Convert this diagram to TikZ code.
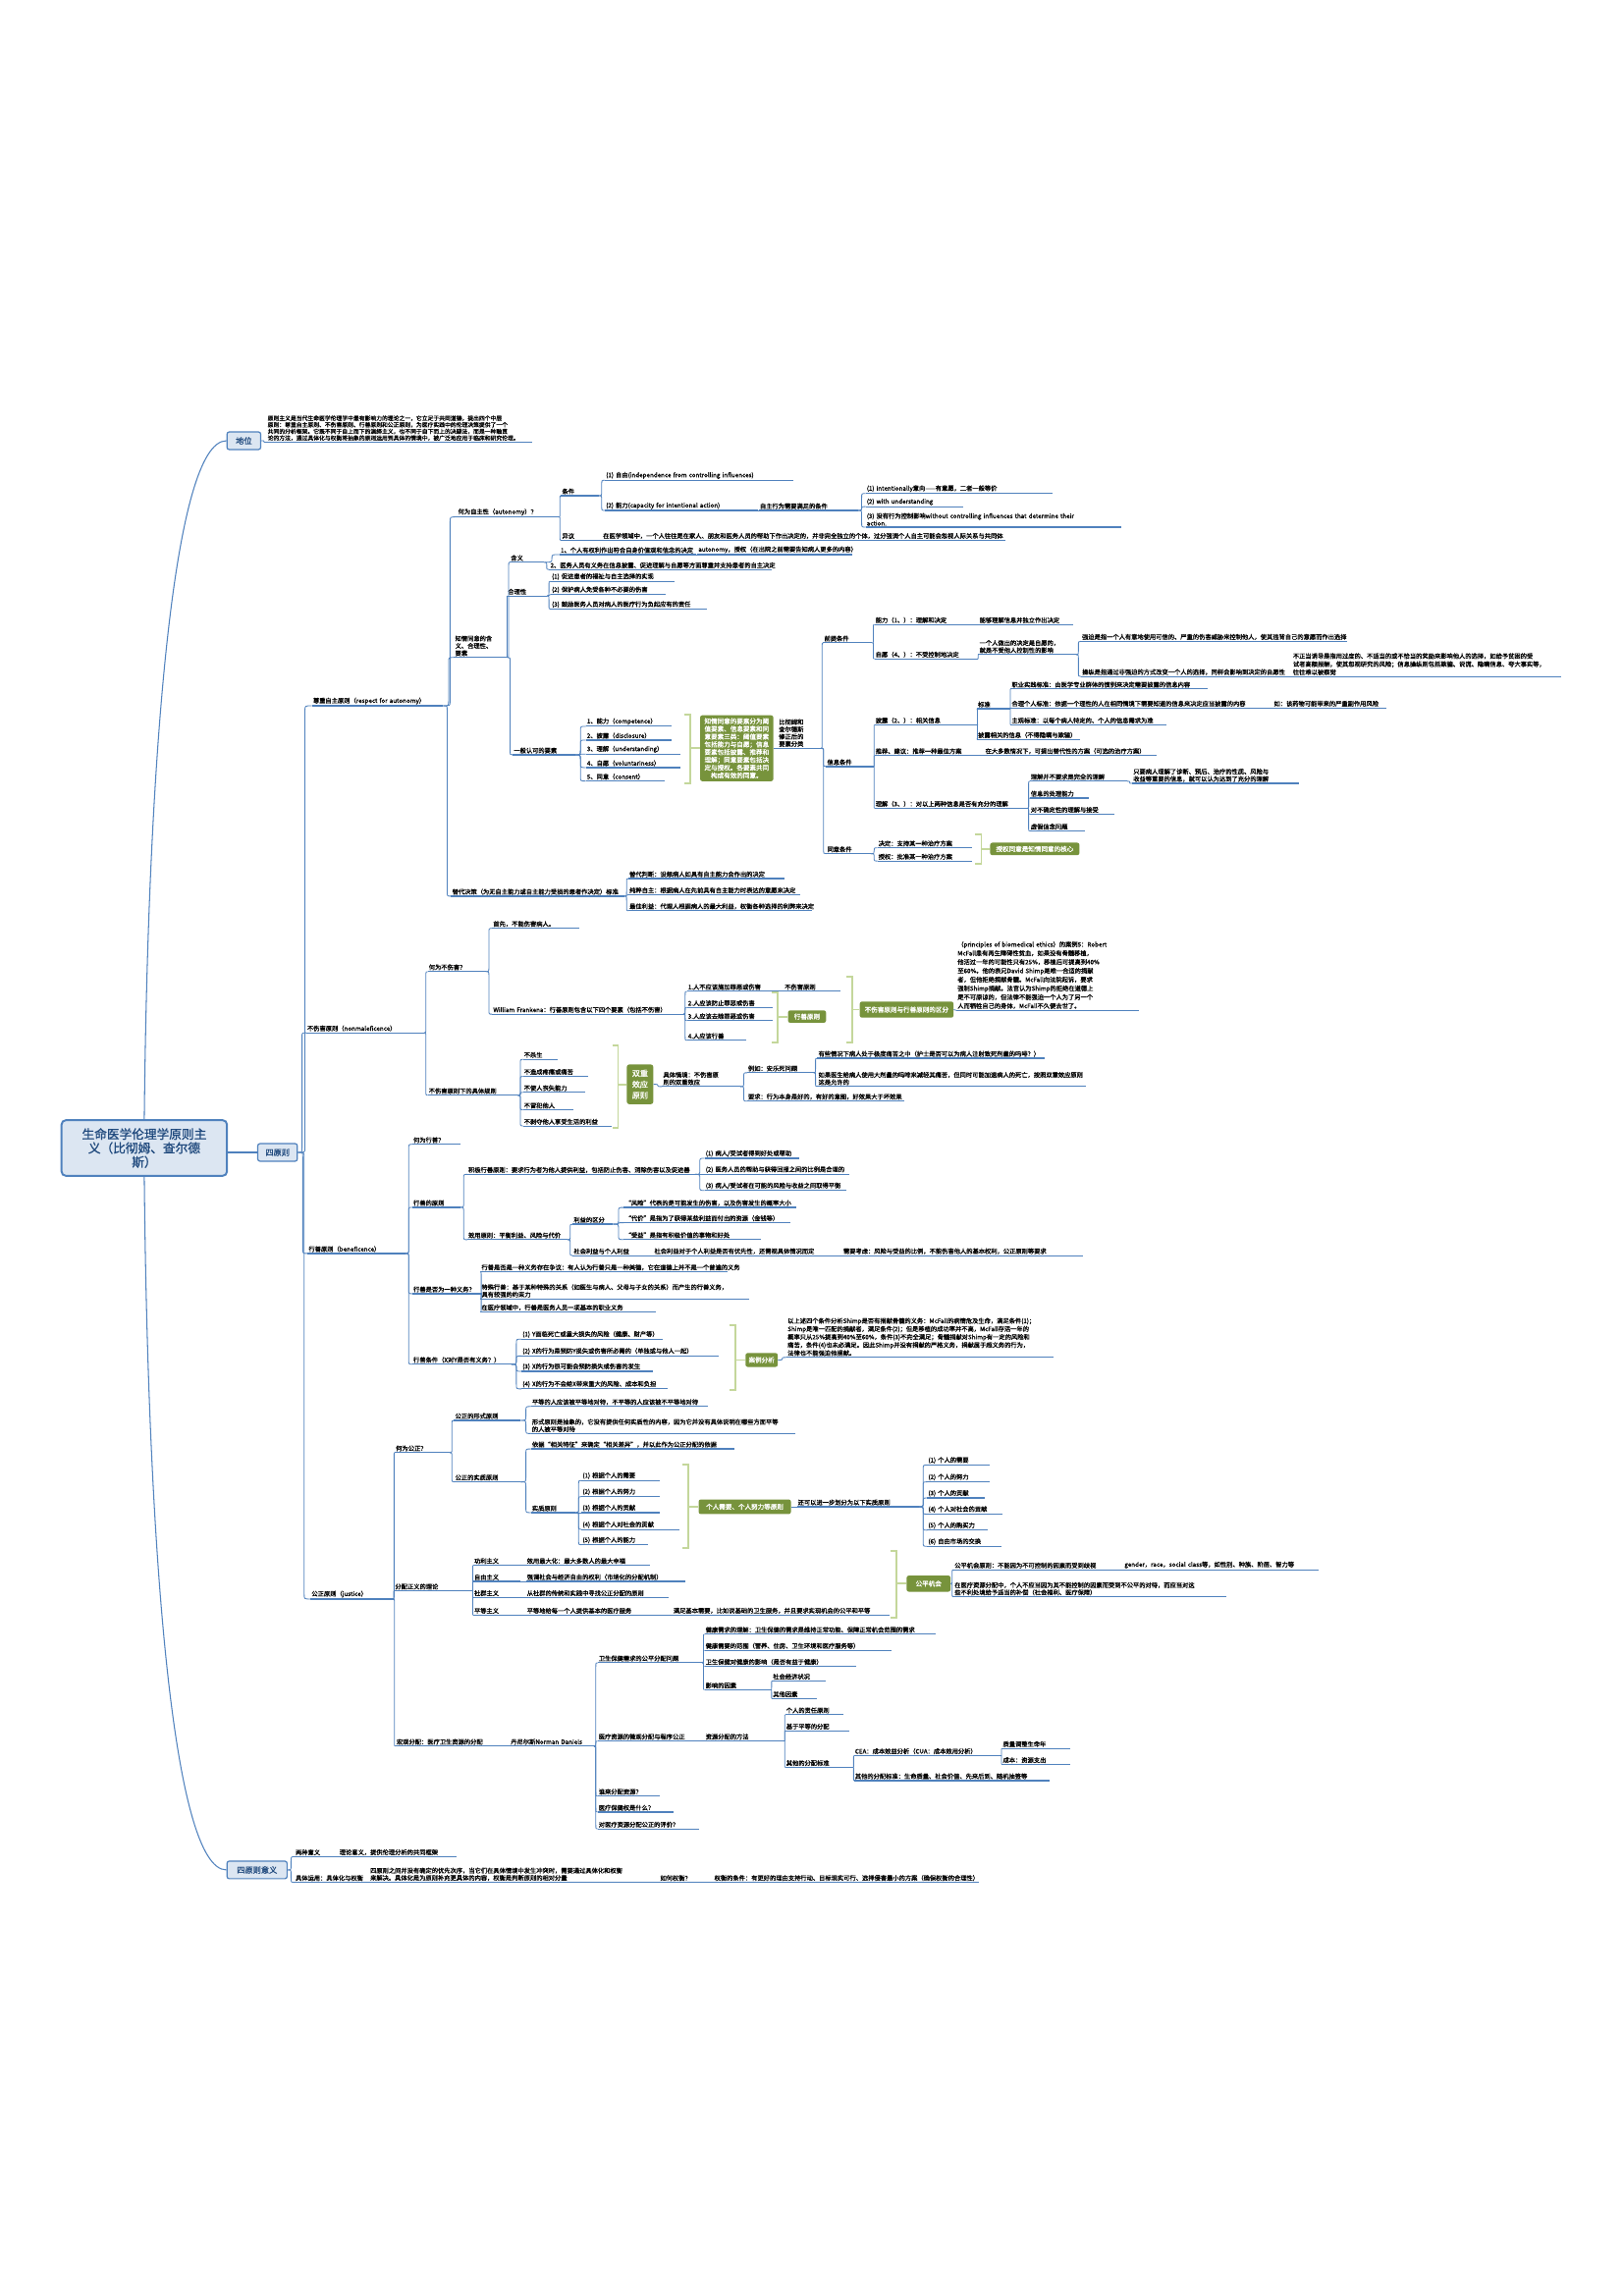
\documentclass[tikz,border=0pt]{standalone}
\usepackage{fontspec}
\setmainfont{Noto Sans CJK SC}
\newfontfamily\hfont[FakeBold=1.2]{Noto Sans CJK SC}
\newfontfamily\bodyfont[FakeBold=1.1]{Noto Sans CJK SC}
\usetikzlibrary{calc}
\definecolor{ublue}{RGB}{79,129,189}
\definecolor{rootfill}{RGB}{220,230,242}
\definecolor{rootink}{RGB}{31,73,125}
\definecolor{ggreen}{RGB}{119,147,60}
\definecolor{bgreen}{RGB}{196,215,155}
\newcommand\txtsz{\bodyfont\fontsize{4.2}{5}\selectfont}
\newcommand\grsz{\hfont\fontsize{4.4}{5.3}\selectfont}
% parent underline end -> child underline start
\newcommand\links[2]{\foreach \kid in {#2}{\draw[conn] (#1.south east) to[br] (\kid.south west);}}
% summary bracket: x, top, bottom, middle, summary node
\newcommand\sumbrk[5]{\draw[brk] (#1,#2) -- (#1+4,#2) -- (#1+4,#3) -- (#1,#3);
  \draw[brk] (#1+4,#4) -- (#5.west);}
\begin{document}
\begin{tikzpicture}[x=1pt,y=-1pt,
  conn/.style={draw=ublue, line width=0.55pt},
  uline/.style={draw=ublue, line width=0.8pt},
  brk/.style={draw=bgreen, line width=1.2pt},
  tp/.style={anchor=south west, inner xsep=0.6pt, inner ysep=0.8pt, text width=#1pt,
    align=left, font=\txtsz,
    append after command={(\tikzlastnode.south west) edge[uline] (\tikzlastnode.south east)}},
  br/.style={to path={let \p1=(\tikztostart), \p2=(\tikztotarget),
      \n1={(\x1+\x2)/2}, \n2={max(-3,min(3,(\y2-\y1)/2))} in
      (\p1) .. controls (\n1,\y1) and (\n1,\y1) .. (\n1,{\y1+\n2})
      -- (\n1,{\y2-\n2}) .. controls (\n1,\y2) and (\n1,\y2) .. (\p2)}},
  root/.style={draw=ublue, line width=1.3pt, fill=rootfill, rounded corners=3pt,
    minimum width=113pt, minimum height=38pt, align=center, text=rootink,
    font=\hfont\fontsize{8.5}{9.5}\selectfont, inner sep=1pt},
  bx/.style={draw=ublue, line width=0.8pt, fill=rootfill, rounded corners=1.5pt,
    minimum height=12pt, inner sep=1pt, text=rootink, font=\hfont\fontsize{5.5}{6}\selectfont},
  gbox/.style={fill=ggreen, rounded corners=1.5pt, text=white, font=\grsz,
    inner sep=0.5pt, align=center}
]
\path[use as bounding box, fill=white] (0,0) rectangle (1108,1568);

% ---------- central topic and main branches ----------
\node[root] (rt) at (98.5,784) {生命医学伦理学原则主\\义（比彻姆、查尔德\\斯）};
\node[bx, minimum width=23pt] (dw) at (166.5,301) {地位};
\node[bx, minimum width=27pt] (sz) at (189.5,787) {四原则};
\node[bx, minimum width=41pt] (yy) at (175.5,1277) {四原则意义};
\draw[conn, line width=0.7pt] (rt.north) .. controls (101,520) and (118,301) .. (dw.west);
\draw[conn, line width=0.7pt] (rt.south) .. controls (101,1060) and (118,1277) .. (yy.west);
\draw[conn, line width=0.7pt] (rt.east |- sz.west) -- (sz.west);

% ---------- 地位 ----------
\node[tp=180, font=\bodyfont\fontsize{3.9}{4.5}\selectfont] (dwt) at (182,302)
 {原则主义是当代生命医学伦理学中最有影响力的理论之一，它立足于共同道德，提出四个中层\\
  原则：尊重自主原则、不伤害原则、行善原则和公正原则，为医疗实践中的伦理决策提供了一个\\
  共同的分析框架。它既不同于自上而下的演绎主义，也不同于自下而上的决疑法，而是一种融贯\\
  论的方法，通过具体化与权衡将抽象的原则运用到具体的情境中，被广泛地应用于临床和研究伦理。};
\draw[conn] (dw.east) to[br] (dwt.south west);

% ---------- 四原则 ----------
\node[tp=88] (p1) at (213,482) {尊重自主原则（respect for autonomy）};
\node[tp=79] (p2) at (209,705.3) {不伤害原则（nonmaleficence）};
\node[tp=65] (p3) at (210,856) {行善原则（beneficence）};
\node[tp=55] (p4) at (212,1092) {公正原则（justice）};
\foreach \kid in {p1,p2,p3,p4}{\draw[conn] (sz.east) to[br] (\kid.south west);}

% ---------- 尊重自主原则 ----------
\node[tp=68] (a1) at (312,353) {何为自主性（autonomy）？};
\node[tp=35] (a2) at (310,449) {知情同意的含\\义、合理性、\\要素};
\node[tp=117] (a3) at (308,612) {替代决策（为无自主能力或自主能力受损的患者作决定）标准};
\links{p1}{a1,a2,a3}

\node[tp=24] (a1a) at (383,338.5) {条件};
\node[tp=24] (a1b) at (383,369) {异议};
\node[tp=274] (a1b1) at (411,369) {在医学领域中，一个人往往是在家人、朋友和医务人员的帮助下作出决定的，并非完全独立的个体，过分强调个人自主可能会忽视人际关系与共同体};
\links{a1}{a1a,a1b}
\links{a1b}{a1b1}
\node[tp=127] (c1) at (413,328) {(1) 自由(independence from controlling influences)};
\node[tp=103] (c2) at (413,348.6) {(2) 能力(capacity for intentional action)};
\links{a1a}{c1,c2}
\node[tp=66] (c2a) at (518,348.6) {自主行为需要满足的条件};
\links{c2}{c2a}
\node[tp=126] (c2a1) at (591,337) {(1) intentionally意向——有意愿，二者一般等价};
\node[tp=65] (c2a2) at (591,346) {(2) with understanding};
\node[tp=173] (c2a3) at (591,360) {(3) 没有行为控制影响without controlling influences that determine their\\action.};
\links{c2a}{c2a1,c2a2,c2a3}

\node[tp=22] (hy) at (348,384) {含义};
\node[tp=26] (hl) at (346,407) {合理性};
\node[tp=41] (ys) at (350,515.5) {一般认可的要素};
\links{a2}{hy,hl,ys}
\node[tp=92] (hy1) at (382,378.7) {1、个人有权利作出符合自身价值观和信念的决定};
\node[tp=104] (hy1a) at (476,378.7) {autonomy，授权（在出院之前需要告知病人更多的内容）};
\node[tp=150] (hy2) at (375,389) {2、医务人员有义务在信息披露、促进理解与自愿等方面尊重并支持患者的自主决定};
\links{hy}{hy1,hy2}
\links{hy1}{hy1a}
\node[tp=83] (hl1) at (376,397) {(1) 促进患者的福祉与自主选择的实现};
\node[tp=77] (hl2) at (376,406) {(2) 保护病人免受各种不必要的伤害};
\node[tp=105] (hl3) at (376,416) {(3) 鼓励医务人员对病人的医疗行为负起应有的责任};
\links{hl}{hl1,hl2,hl3}
\node[tp=57] (ys1) at (400,496) {1、能力（competence）};
\node[tp=57] (ys2) at (400,505.4) {2、披露（disclosure）};
\node[tp=63] (ys3) at (400,515) {3、理解（understanding）};
\node[tp=63] (ys4) at (400,524.2) {4、自愿（voluntariness）};
\node[tp=52] (ys5) at (400,533.4) {5、同意（consent）};
\links{ys}{ys1,ys2,ys3,ys4,ys5}

\node[gbox, minimum width=50pt, minimum height=45pt] (gb1) at (503,511)
 {知情同意的要素分为阈\\值要素、信息要素和同\\意要素三类：阈值要素\\包括能力与自愿；信息\\要素包括披露、推荐和\\理解；同意要素包括决\\定与授权。各要素共同\\构成有效的同意。};
\sumbrk{467}{488}{535}{511}{gb1}
\node[tp=28] (gbl) at (531,511) {比彻姆和\\查尔德斯\\修正后的\\要素分类};
\draw[conn] (gb1.east) to[br] (gbl.south west);

\node[tp=32] (qt) at (562,439) {前提条件};
\node[tp=31] (xx) at (564,523.5) {信息条件};
\node[tp=29] (ty) at (564,583) {同意条件};
\links{gbl}{qt,xx,ty}

\node[tp=69] (qt1) at (597,426.5) {能力（1、）：理解和决定};
\node[tp=63] (qt1a) at (668,426.5) {能够理解信息并独立作出决定};
\node[tp=69] (qt2) at (597,450) {自愿（4、）：不受控制地决定};
\node[tp=65] (qt2a) at (668,447) {一个人做出的决定是自愿的，\\就是不受他人控制性的影响};
\links{qt}{qt1,qt2}
\links{qt1}{qt1a}
\links{qt2}{qt2a}
\node[tp=180] (qt2a1) at (738,438) {强迫是指一个人有意地使用可信的、严重的伤害威胁来控制他人，使其违背自己的意愿而作出选择};
\node[tp=142] (qt2a2) at (738,462) {操纵是指通过非强迫的方式改变一个人的选择，同样会影响到决定的自愿性};
\links{qt2a}{qt2a1,qt2a2}
\node[tp=182, font=\bodyfont\fontsize{4.2}{5.5}\selectfont] (qt2a2a) at (882,462)
 {不正当诱导是指用过度的、不适当的或不恰当的奖励来影响他人的选择，如给予贫困的受\\
  试者高额报酬，使其忽视研究的风险；信息操纵则包括欺骗、说谎、隐瞒信息、夸大事实等，\\
  往往难以被察觉};
\links{qt2a2}{qt2a2a}

\node[tp=69] (xx1) at (597,495) {披露（2、）：相关信息};
\node[tp=71] (xx2) at (597,516) {推荐、建议：推荐一种最佳方案};
\node[tp=103] (xx3) at (597,552) {理解（3、）：对以上两种信息是否有充分的理解};
\links{xx}{xx1,xx2,xx3}
\node[tp=21] (xx1a) at (667,484) {标准};
\node[tp=69] (xx1b) at (667,505) {披露相关的信息（不得隐瞒与欺骗）};
\links{xx1}{xx1a,xx1b}
\node[tp=133] (xx1a1) at (690,470.5) {职业实践标准：由医学专业群体的惯例来决定需要披露的信息内容};
\node[tp=177] (xx1a2) at (690,483.5) {合理个人标准：依据一个理性的人在相同情境下需要知道的信息来决定应当披露的内容};
\node[tp=105] (xx1a3) at (690,495) {主观标准：以每个病人特定的、个人的信息需求为准};
\links{xx1a}{xx1a1,xx1a2,xx1a3}
\node[tp=76] (xx1a2a) at (869,483.5) {如：该药物可能带来的严重副作用风险};
\links{xx1a2}{xx1a2a}
\node[tp=116] (xx2a) at (672,516) {在大多数情况下，可提出替代性的方案（可选的治疗方案）};
\links{xx2}{xx2a}
\node[tp=65] (xx3a) at (703,533.5) {理解并不要求是完全的理解};
\node[tp=39] (xx3b) at (703,545) {信息的处理能力};
\node[tp=56] (xx3c) at (703,556) {对不确定性的理解与接受};
\node[tp=36] (xx3d) at (703,567.5) {虚假信念问题};
\links{xx3}{xx3a,xx3b,xx3c,xx3d}
\node[tp=112] (xx3a1) at (773,535) {只要病人理解了诊断、预后、治疗的性质、风险与\\收益等重要的信息，就可以认为达到了充分的理解};
\links{xx3a}{xx3a1}

\node[tp=63] (ty1) at (599,579) {决定：支持某一种治疗方案};
\node[tp=63] (ty2) at (599,588) {授权：批准某一种治疗方案};
\links{ty}{ty1,ty2}
\node[gbox, minimum width=61pt, minimum height=8.5pt] (gb2) at (706.5,579.75) {授权同意是知情同意的核心};
\sumbrk{666}{570}{590}{579.75}{gb2}

\node[tp=105] (td1) at (429,600) {替代判断：设想病人如具有自主能力会作出的决定};
\node[tp=116] (td2) at (429,611) {纯粹自主：根据病人在先前具有自主能力时表达的意愿来决定};
\node[tp=124] (td3) at (429,622) {最佳利益：代理人根据病人的最大利益，权衡各种选择的利弊来决定};
\links{a3}{td1,td2,td3}

% ---------- 不伤害原则 ----------
\node[tp=38] (n1) at (292,663.5) {何为不伤害？};
\node[tp=60] (n2) at (292,748) {不伤害原则下的具体规则};
\links{p2}{n1,n2}
\node[tp=58] (n1a) at (336,634) {首先，不能伤害病人。};
\node[tp=129] (n1b) at (336,692.6) {William Frankena：行善原则包含以下四个要素（包括不伤害）};
\links{n1}{n1a,n1b}
\node[tp=64] (n1b1) at (469,677) {1.人不应该施加罪恶或伤害};
\node[tp=57] (n1b2) at (469,688) {2.人应该防止罪恶或伤害};
\node[tp=57] (n1b3) at (469,697) {3.人应该去除罪恶或伤害};
\node[tp=39] (n1b4) at (469,710.5) {4.人应该行善};
\links{n1b}{n1b1,n1b2,n1b3,n1b4}
\node[tp=37] (n1b1a) at (535,677) {不伤害原则};
\links{n1b1}{n1b1a}
\node[gbox, minimum width=26pt, minimum height=8.5pt] (gb3) at (551,694.25) {行善原则};
\sumbrk{527}{678}{712}{694.25}{gb3}
\node[gbox, minimum width=64pt, minimum height=11pt] (gb4) at (619,689.5) {不伤害原则与行善原则的区分};
\sumbrk{578}{667}{712}{689.5}{gb4}
\node[tp=123, font=\bodyfont\fontsize{4.2}{6}\selectfont] (ncase) at (653,690)
 {（principles of biomedical ethics）的案例5：Robert\\
  McFall患有再生障碍性贫血，如果没有骨髓移植，\\
  他活过一年的可能性只有25\%，移植后可提高到40\%\\
  至60\%。他的表兄David Shimp是唯一合适的捐献\\
  者，但他拒绝捐献骨髓。McFall向法院起诉，要求\\
  强制Shimp捐献。法官认为Shimp的拒绝在道德上\\
  是不可原谅的，但法律不能强迫一个人为了另一个\\
  人而牺牲自己的身体，McFall不久便去世了。};
\draw[conn] (gb4.east) to[br] (ncase.south west);

\node[tp=22] (n2a) at (357,723.4) {不杀生};
\node[tp=43] (n2b) at (357,735) {不造成疼痛或痛苦};
\node[tp=41] (n2c) at (357,746) {不使人丧失能力};
\node[tp=33] (n2d) at (357,758) {不冒犯他人};
\node[tp=59] (n2e) at (357,769) {不剥夺他人享受生活的利益};
\links{n2}{n2a,n2b,n2c,n2d,n2e}
\node[gbox, minimum width=18pt, minimum height=27pt, font=\hfont\fontsize{5.4}{7.5}\selectfont] (gb5) at (437,740.5) {双重\\效应\\原则};
\sumbrk{418}{714}{770}{740.5}{gb5}
\node[tp=52] (n2f) at (452,742) {具体情境：不伤害原\\则的双重效应};
\draw[conn] (gb5.east) to[br] (n2f.south west);
\node[tp=44] (n2f1) at (510,732.6) {例如：安乐死问题};
\node[tp=106] (n2f2) at (510,752) {要求：行为本身是好的，有好的意图，好效果大于坏效果};
\links{n2f}{n2f1,n2f2}
\node[tp=154] (n2f1a) at (558,722.7) {有些情况下病人处于极度痛苦之中（护士是否可以为病人注射致死剂量的吗啡？）};
\node[tp=182] (n2f1b) at (558,742) {如果医生给病人使用大剂量的吗啡来减轻其痛苦，但同时可能加速病人的死亡，按照双重效应原则\\这是允许的};
\links{n2f1}{n2f1a,n2f1b}

% ---------- 行善原则 ----------
\node[tp=31] (b1) at (281.5,781.5) {何为行善？};
\node[tp=31] (b2) at (281.5,824.5) {行善的原则};
\node[tp=46] (b3) at (281.5,883.5) {行善是否为一种义务？};
\node[tp=66] (b4) at (281.5,931.7) {行善条件（X对Y是否有义务？）};
\links{p3}{b1,b2,b3,b4}
\node[tp=154] (b2a) at (319,802) {积极行善原则：要求行为者为他人提供利益，包括防止伤害、消除伤害以及促进善};
\node[tp=67] (b2b) at (319,846.6) {效用原则：平衡利益、风险与代价};
\links{b2}{b2a,b2b}
\node[tp=63] (b2a1) at (481,791) {(1) 病人/受试者得到好处或帮助};
\node[tp=97] (b2a2) at (481,802) {(2) 医务人员的帮助与获得回报之间的比例是合理的};
\node[tp=95] (b2a3) at (481,813) {(3) 病人/受试者在可能的风险与收益之间取得平衡};
\links{b2a}{b2a1,b2a2,b2a3}
\node[tp=26] (b2b1) at (391,836) {利益的区分};
\node[tp=51] (b2b2) at (391,857.5) {社会利益与个人利益};
\links{b2b}{b2b1,b2b2}
\node[tp=116] (b2b1a) at (426,824.6) {“风险”代表的是可能发生的伤害，以及伤害发生的概率大小};
\node[tp=112] (b2b1b) at (426,835) {“代价”是指为了获得某些利益而付出的资源（金钱等）};
\node[tp=92] (b2b1c) at (426,846.5) {“受益”是指有积极价值的事物和好处};
\links{b2b1}{b2b1a,b2b1b,b2b1c}
\node[tp=127] (b2b2a) at (446,857.5) {社会利益对于个人利益是否有优先性，还需视具体情况而定};
\links{b2b2}{b2b2a}
\node[tp=163] (b2b2a1) at (575,857.5) {需要考虑：风险与受益的比例，不能伤害他人的基本权利，公正原则等要求};
\links{b2b2a}{b2b2a1}

\node[tp=167] (b3a) at (328,868.6) {行善是否是一种义务存在争议：有人认为行善只是一种美德，它在道德上并不是一个普遍的义务};
\node[tp=182] (b3b) at (328,887) {特殊行善：基于某种特殊的关系（如医生与病人、父母与子女的关系）而产生的行善义务，\\具有较强的约束力};
\node[tp=118] (b3c) at (328,896) {在医疗领域中，行善是医务人员一项基本的职业义务};
\links{b3}{b3a,b3b,b3c}

\node[tp=95] (b4a) at (356,914.5) {(1) Y面临死亡或重大损失的风险（健康、财产等）};
\node[tp=133] (b4b) at (356,926) {(2) X的行为是预防Y损失或伤害所必需的（单独或与他人一起）};
\node[tp=88] (b4c) at (356,936.5) {(3) X的行为很可能会预防损失或伤害的发生};
\node[tp=98] (b4d) at (356,948.5) {(4) X的行为不会给X带来重大的风险、成本和负担};
\links{b4}{b4a,b4b,b4c,b4d}
\node[gbox, minimum width=22pt, minimum height=9.5pt] (gb6) at (520,928.75) {案例分析};
\sumbrk{498}{905}{949}{928.75}{gb6}
\node[tp=181, font=\bodyfont\fontsize{4.2}{5.5}\selectfont] (b4e) at (537,927)
 {以上述四个条件分析Shimp是否有捐献骨髓的义务：McFall的病情危及生命，满足条件(1)；\\
  Shimp是唯一匹配的捐献者，满足条件(2)；但是移植的成功率并不高，McFall存活一年的\\
  概率只从25\%提高到40\%至60\%，条件(3)不完全满足；骨髓捐献对Shimp有一定的风险和\\
  痛苦，条件(4)也未必满足。因此Shimp并没有捐献的严格义务，捐献属于超义务的行为，\\
  法律也不能强迫他捐献。};
\draw[conn] (gb6.east) to[br] (b4e.south west);

% ---------- 公正原则 ----------
\node[tp=36] (j1) at (269.5,992) {何为公正？};
\node[tp=52] (j2) at (269,1086.5) {分配正义的理论};
\node[tp=78] (j3) at (270,1192.5) {宏观分配：医疗卫生资源的分配};
\links{p4}{j1,j2,j3}
\node[tp=44] (j1a) at (310,970) {公正的形式原则};
\node[tp=44] (j1b) at (310,1012) {公正的实质原则};
\links{j1}{j1a,j1b}
\node[tp=119] (j1a1) at (362.5,960.5) {平等的人应该被平等地对待，不平等的人应该被不平等地对待};
\node[tp=179] (j1a2) at (362.5,979) {形式原则是抽象的，它没有提供任何实质性的内容，因为它并没有具体说明在哪些方面平等\\的人被平等对待};
\links{j1a}{j1a1,j1a2}
\node[tp=137] (j1b1) at (362.5,989.5) {依据“相关特征”来确定“相关差异”，并以此作为公正分配的依据};
\node[tp=29] (j1b2) at (362.5,1033) {实质原则};
\links{j1b}{j1b1,j1b2}
\node[tp=52] (j1c1) at (397,1011) {(1) 根据个人的需要};
\node[tp=52] (j1c2) at (397,1022) {(2) 根据个人的努力};
\node[tp=52] (j1c3) at (397,1033) {(3) 根据个人的贡献};
\node[tp=65] (j1c4) at (397,1044.5) {(4) 根据个人对社会的贡献};
\node[tp=44] (j1c5) at (397,1055) {(5) 根据个人的能力};
\links{j1b2}{j1c1,j1c2,j1c3,j1c4,j1c5}
\node[gbox, minimum width=63pt, minimum height=10pt] (gb7) at (508.5,1029) {个人需要、个人努力等原则};
\sumbrk{466}{1000}{1057}{1029}{gb7}
\node[tp=82] (j1b3) at (544,1029) {还可以进一步划分为以下实质原则};
\draw[conn] (gb7.east) to[br] (j1b3.south west);
\node[tp=41] (j1d1) at (633,1000.5) {(1) 个人的需要};
\node[tp=41] (j1d2) at (633,1012) {(2) 个人的努力};
\node[tp=38] (j1d3) at (633,1023) {(3) 个人的贡献};
\node[tp=50] (j1d4) at (633,1034) {(4) 个人对社会的贡献};
\node[tp=40] (j1d5) at (633,1045) {(5) 个人的购买力};
\node[tp=49] (j1d6) at (633,1056) {(6) 自由市场的交换};
\links{j1b3}{j1d1,j1d2,j1d3,j1d4,j1d5,j1d6}

\node[tp=31] (j2a) at (323,1069) {功利主义};
\node[tp=31] (j2b) at (323,1080) {自由主义};
\node[tp=31] (j2c) at (323,1091) {社群主义};
\node[tp=31] (j2d) at (323,1103) {平等主义};
\links{j2}{j2a,j2b,j2c,j2d}
\node[tp=83] (j2a1) at (359,1069) {效用最大化：最大多数人的最大幸福};
\node[tp=107] (j2b1) at (359,1080) {强调社会与经济自由的权利（市场化的分配机制）};
\node[tp=96] (j2c1) at (359,1091) {从社群的传统和实践中寻找公正分配的原则};
\node[tp=93] (j2d1) at (359,1103) {平等地给每一个人提供基本的医疗服务};
\links{j2a}{j2a1}
\links{j2b}{j2b1}
\links{j2c}{j2c1}
\links{j2d}{j2d1}
\node[tp=147] (j2d1a) at (459,1103) {满足基本需要，比如说基础的卫生服务，并且要求实现机会的公平和平等};
\links{j2d1}{j2d1a}
\node[gbox, minimum width=30pt, minimum height=11pt] (gb8) at (634,1081.5) {公平机会};
\sumbrk{608}{1059}{1105}{1081.5}{gb8}
\node[tp=114] (j2e) at (651,1072) {公平机会原则：不能因为不可控制的因素而受到歧视};
\node[tp=185] (j2f) at (651,1090.5) {在医疗资源分配中，个人不应当因为其不能控制的因素而受到不公平的对待，而应当对这\\些不利处境给予适当的补偿（社会福利、医疗保障）};
\draw[conn] (gb8.east) to[br] (j2e.south west);
\draw[conn] (gb8.east) to[br] (j2f.south west);
\node[tp=132] (j2e1) at (767,1072) {gender，race，social class等，如性别、种族、阶层、智力等};
\links{j2e}{j2e1}

\node[tp=56] (j3a) at (348,1192.5) {丹尼尔斯Norman Daniels};
\links{j3}{j3a}
\node[tp=70] (j3a1) at (408,1135.5) {卫生保健需求的公平分配问题};
\node[tp=72] (j3a2) at (408,1189) {医疗资源的微观分配与程序公正};
\node[tp=41] (j3a3) at (408,1226.6) {谁来分配资源？};
\node[tp=50] (j3a4) at (408,1237.5) {医疗保健权是什么？};
\node[tp=68] (j3a5) at (408,1249) {对医疗资源分配公正的评价？};
\links{j3a}{j3a1,j3a2,j3a3,j3a4,j3a5}
\node[tp=156] (j3a1a) at (481,1116) {健康需求的理解：卫生保健的需求是维持正常功能、保障正常机会范围的需求};
\node[tp=126] (j3a1b) at (481,1127) {健康需要的范围（营养、住房、卫生环境和医疗服务等）};
\node[tp=102] (j3a1c) at (481,1138) {卫生保健对健康的影响（是否有益于健康）};
\node[tp=44] (j3a1d) at (481,1154) {影响的因素};
\links{j3a1}{j3a1a,j3a1b,j3a1c,j3a1d}
\node[tp=35] (j3a1d1) at (527,1148) {社会经济状况};
\node[tp=29] (j3a1d2) at (527,1160) {其他因素};
\links{j3a1d}{j3a1d1,j3a1d2}
\node[tp=53] (j3a2a) at (481,1189) {资源分配的方法};
\links{j3a2}{j3a2a}
\node[tp=38] (j3a2a1) at (536,1171) {个人的责任原则};
\node[tp=42] (j3a2a2) at (536,1182) {基于平等的分配};
\node[tp=45] (j3a2a3) at (536,1207) {其他的分配标准};
\links{j3a2a}{j3a2a1,j3a2a2,j3a2a3}
\node[tp=99] (j3a2a3a) at (583,1199) {CEA：成本效益分析（CUA：成本效用分析）};
\node[tp=132] (j3a2a3b) at (583,1216) {其他的分配标准：生命质量、社会价值、先来后到、随机抽签等};
\links{j3a2a3}{j3a2a3a,j3a2a3b}
\node[tp=45] (j3x1) at (684,1194) {质量调整生命年};
\node[tp=45] (j3x2) at (684,1205) {成本：资源支出};
\links{j3a2a3a}{j3x1,j3x2}

% ---------- 四原则意义 ----------
\node[tp=29] (yy1) at (201,1268) {两种意义};
\node[tp=51] (yy2) at (201,1285.5) {具体运用：具体化与权衡};
\foreach \kid in {yy1,yy2}{\draw[conn] (yy.east) to[br] (\kid.south west);}
\node[tp=79] (yy1a) at (231,1268) {理论意义，提供伦理分析的共同框架};
\links{yy1}{yy1a}
\node[tp=198] (yy2a) at (252,1285.5) {四原则之间并没有确定的优先次序，当它们在具体情境中发生冲突时，需要通过具体化和权衡\\来解决。具体化是为原则补充更具体的内容，权衡是判断原则的相对分量};
\links{yy2}{yy2a}
\node[tp=27] (yy2a1) at (450,1285.5) {如何权衡？};
\links{yy2a}{yy2a1}
\node[tp=180] (yy2a1a) at (487,1285.5) {权衡的条件：有更好的理由支持行动、目标现实可行、选择侵害最小的方案（确保权衡的合理性）};
\links{yy2a1}{yy2a1a}
\end{tikzpicture}
\end{document}
